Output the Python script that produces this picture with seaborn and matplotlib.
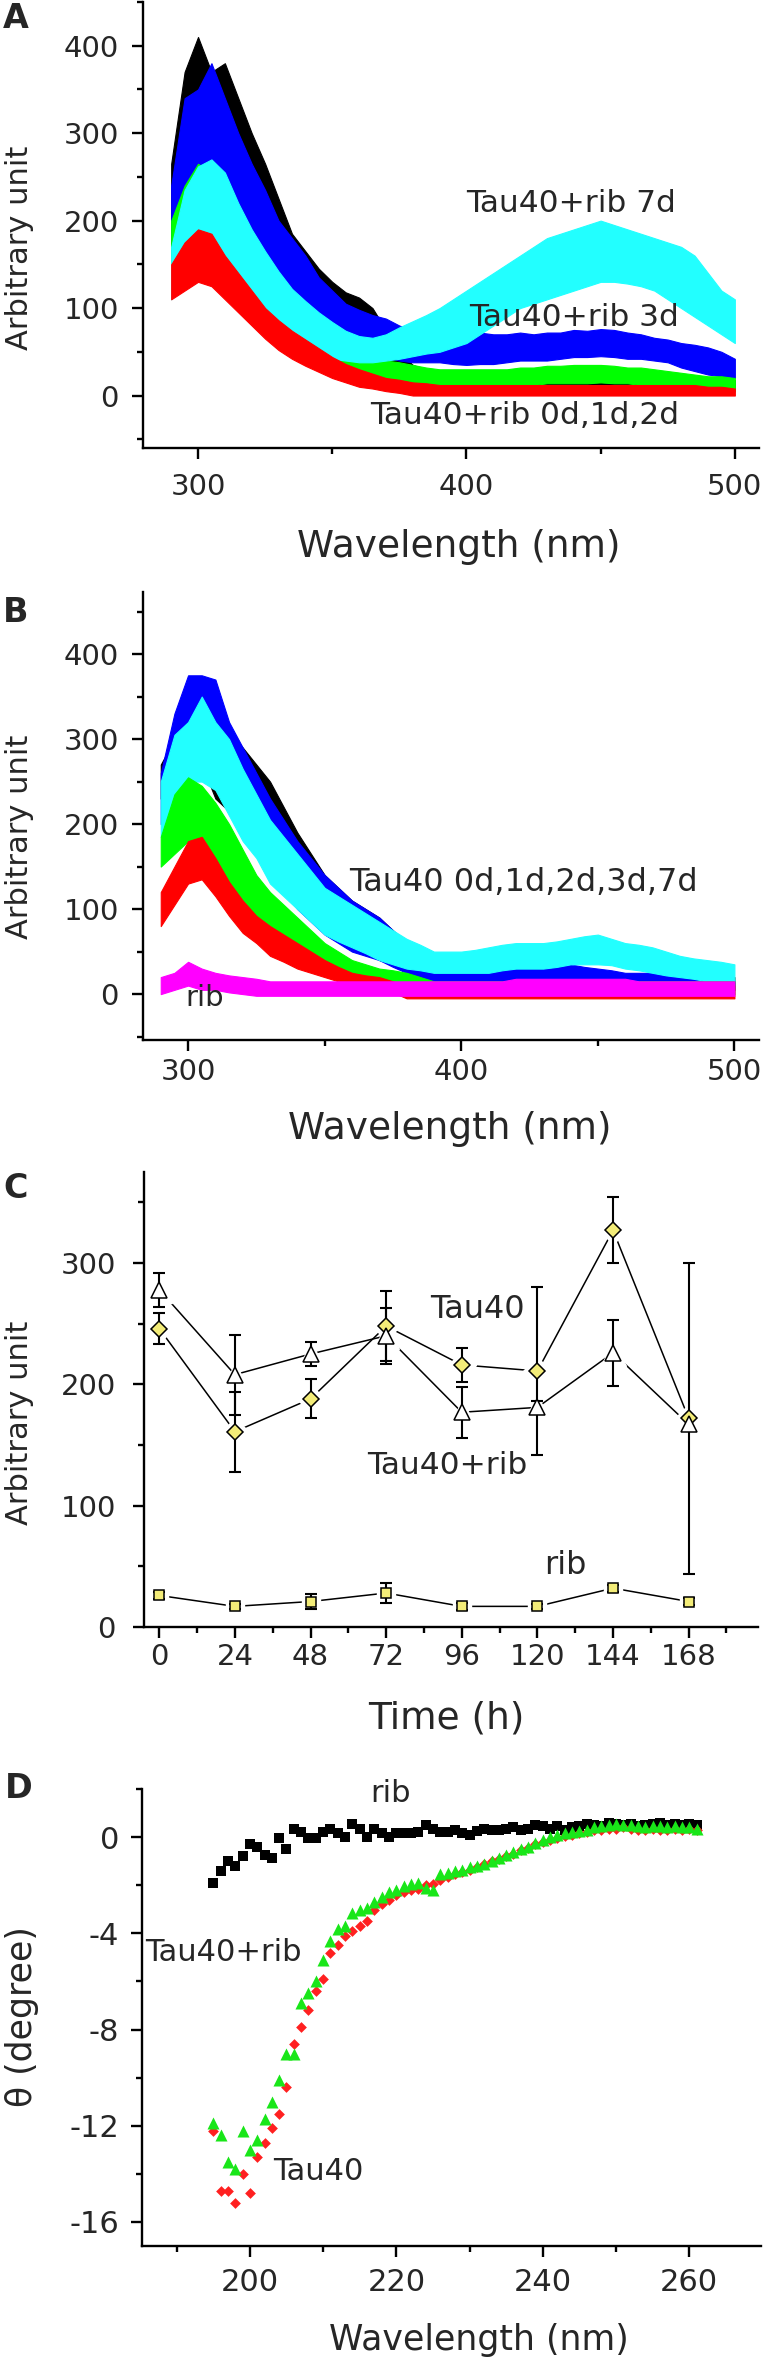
import numpy as np
import pandas as pd
import matplotlib.pyplot as plt
from matplotlib.ticker import MultipleLocator
import seaborn as sns

# --- panel A/B: fluorescence spectra, noisy traces given as lower/upper envelopes every 5 nm
wl = [290, 295, 300, 305, 310, 315, 320, 325, 330, 335, 340, 345, 350, 355, 360,
      365, 370, 375, 380, 385, 390, 395, 400, 405, 410, 415, 420, 425, 430, 435,
      440, 445, 450, 455, 460, 465, 470, 475, 480, 485, 490, 495, 500]

a_black_lo = [170, 230, 240, 245, 235, 190, 160, 140, 115, 95, 85, 70, 60, 50, 40, 30, 25, 20, 15, 12, 10, 10, 8, 8, 8, 6, 6, 6, 6, 6, 6, 6, 6, 5, 5, 5, 5, 5, 5, 5, 5, 5, 5]
a_black_hi = [265, 370, 410, 370, 380, 340, 300, 265, 225, 185, 165, 145, 130, 118, 112, 100, 75, 50, 35, 30, 28, 25, 25, 25, 25, 25, 25, 22, 22, 22, 22, 25, 22, 22, 20, 20, 20, 20, 20, 20, 18, 18, 18]
a_blue_lo = [160, 200, 215, 220, 205, 180, 150, 125, 105, 95, 82, 72, 62, 58, 52, 48, 44, 40, 38, 38, 38, 36, 35, 36, 36, 38, 40, 40, 40, 42, 44, 44, 45, 44, 42, 42, 40, 38, 32, 28, 24, 22, 20]
a_blue_hi = [240, 340, 350, 380, 340, 300, 265, 235, 200, 180, 160, 135, 120, 105, 98, 92, 88, 80, 75, 72, 70, 72, 75, 72, 70, 70, 72, 70, 72, 72, 75, 74, 76, 75, 72, 70, 66, 64, 60, 58, 55, 50, 42]
a_cyan_lo = [110, 140, 150, 160, 150, 125, 105, 90, 75, 62, 52, 46, 42, 40, 38, 38, 40, 42, 45, 48, 50, 55, 60, 70, 80, 90, 100, 105, 110, 115, 120, 125, 130, 130, 128, 125, 120, 110, 100, 90, 80, 70, 60]
a_cyan_hi = [170, 235, 262, 270, 255, 220, 190, 165, 142, 122, 108, 95, 84, 74, 68, 66, 70, 78, 85, 92, 100, 110, 120, 130, 140, 150, 160, 170, 180, 185, 190, 195, 200, 195, 190, 185, 180, 175, 170, 160, 140, 120, 110]
a_green_lo = [150, 165, 175, 170, 160, 130, 110, 90, 70, 60, 50, 40, 30, 25, 20, 18, 15, 14, 12, 12, 10, 10, 10, 10, 10, 12, 12, 12, 14, 14, 14, 14, 15, 14, 14, 12, 12, 10, 10, 8, 8, 6, 5]
a_green_hi = [200, 240, 265, 255, 235, 205, 175, 145, 122, 104, 92, 78, 62, 52, 46, 42, 40, 38, 35, 32, 30, 30, 30, 30, 30, 30, 32, 32, 34, 34, 35, 35, 35, 34, 32, 32, 30, 28, 26, 24, 22, 22, 20]
a_red_lo = [110, 120, 130, 125, 110, 95, 80, 65, 52, 42, 34, 27, 20, 15, 10, 8, 5, 3, 0, 0, 0, 0, 0, 0, 0, 0, 0, 0, 0, 0, 0, 0, 0, 0, 0, 0, 0, 0, 0, 0, 0, 0, 0]
a_red_hi = [150, 175, 190, 185, 160, 140, 120, 100, 86, 74, 64, 54, 44, 36, 30, 25, 20, 18, 15, 14, 12, 12, 12, 12, 12, 12, 12, 12, 12, 12, 12, 12, 12, 12, 12, 12, 12, 12, 12, 12, 10, 10, 8]

b_black_lo = [230, 260, 250, 270, 230, 215, 200, 175, 150, 130, 110, 95, 80, 70, 60, 50, 40, 35, 30, 25, 20, 15, 10, 8, 8, 8, 6, 6, 6, 6, 6, 5, 5, 5, 5, 5, 5, 5, 5, 5, 5, 5, 5]
b_black_hi = [270, 300, 360, 330, 340, 310, 290, 270, 250, 220, 190, 165, 140, 125, 110, 100, 90, 75, 60, 52, 45, 40, 35, 30, 28, 25, 25, 25, 25, 25, 25, 25, 25, 22, 22, 22, 22, 20, 20, 20, 20, 20, 20]
b_blue_lo = [200, 250, 270, 280, 250, 220, 200, 170, 140, 120, 100, 85, 70, 60, 50, 45, 40, 32, 25, 20, 15, 12, 10, 10, 10, 10, 10, 10, 10, 10, 10, 10, 10, 10, 10, 8, 5, 5, 5, 5, 5, 5, 5]
b_blue_hi = [260, 330, 375, 375, 370, 320, 290, 260, 230, 205, 180, 160, 140, 125, 110, 100, 90, 75, 60, 52, 45, 40, 35, 38, 40, 38, 35, 32, 30, 32, 35, 32, 30, 28, 25, 25, 25, 22, 20, 20, 20, 18, 15]
b_cyan_lo = [185, 230, 250, 250, 240, 210, 180, 160, 130, 115, 100, 85, 70, 62, 55, 48, 40, 35, 30, 28, 25, 25, 25, 25, 25, 28, 30, 30, 30, 32, 35, 35, 35, 34, 30, 28, 25, 22, 20, 18, 15, 15, 15]
b_cyan_hi = [250, 305, 320, 350, 320, 300, 265, 235, 205, 185, 165, 145, 125, 115, 105, 95, 85, 75, 65, 58, 50, 50, 50, 52, 55, 58, 60, 60, 60, 62, 65, 68, 70, 65, 60, 58, 55, 50, 45, 42, 40, 38, 35]
b_green_lo = [150, 165, 180, 175, 160, 130, 110, 90, 70, 58, 45, 38, 30, 22, 15, 12, 10, 8, 5, 3, 0, 0, 0, 0, 0, 0, 0, 0, 0, 0, 0, 0, 0, 0, 0, 0, 0, 0, 0, 0, 0, 0, 0]
b_green_hi = [185, 235, 255, 245, 225, 200, 170, 140, 120, 105, 90, 75, 60, 50, 40, 35, 30, 28, 25, 20, 15, 15, 15, 15, 15, 15, 15, 15, 15, 15, 15, 15, 15, 15, 15, 15, 15, 15, 15, 15, 15, 15, 15]
b_red_lo = [80, 105, 130, 135, 115, 92, 72, 60, 45, 38, 30, 25, 20, 15, 10, 8, 5, 2, -5, -5, -5, -5, -5, -5, -5, -5, -5, -5, -5, -5, -5, -5, -5, -5, -5, -5, -5, -5, -5, -5, -5, -5, -5]
b_red_hi = [120, 150, 180, 185, 160, 132, 110, 92, 80, 70, 60, 50, 40, 32, 25, 22, 20, 15, 10, 10, 10, 10, 10, 10, 10, 10, 10, 10, 10, 10, 10, 10, 10, 10, 10, 10, 10, 10, 10, 10, 10, 10, 10]
b_rib_lo = [0, 5, 10, 5, 5, 2, 0, -2, -2, -2, -2, -2, -2, -2, -2, -2, -2, -2, -2, -2, -2, -2, -2, -2, -2, -2, -2, -2, -2, -2, -2, -2, -2, -2, -2, -2, -2, -2, -2, -2, -2, -2, -2]
b_rib_hi = [20, 25, 38, 30, 25, 22, 20, 18, 15, 15, 15, 15, 15, 15, 15, 15, 15, 15, 15, 15, 15, 15, 15, 15, 15, 15, 18, 18, 18, 18, 18, 18, 18, 18, 18, 15, 15, 15, 15, 15, 15, 15, 15]

# --- panel C: intensity vs time
hours = [0, 24, 48, 72, 96, 120, 144, 168]
tau40 = [246, 161, 188, 248, 216, 211, 327, 172]
tau40_err = [13, 33, 16, 29, 14, 69, 27, 128]
tau40_rib = [278, 208, 225, 240, 177, 181, 226, 167]
tau40_rib_err = [14, 33, 10, 23, 21, 5, 27, 5]
rib = [26, 17, 21, 28, 17, 17, 32, 21]
rib_err = [3, 2, 6, 8, 3, 2, 3, 3]

# --- panel D: CD spectra, 195-261 nm
cd_wl = list(range(195, 262))
cd_rib = [-1.9, -1.4, -1.0, -1.2, -0.8, -0.3, -0.4, -0.75, -0.85, -0.05, -0.5, 0.35, 0.2, -0.05, -0.05, 0.2, 0.35, 0.15, 0.0, 0.55, 0.35, 0.0, 0.35, 0.15, 0.0, 0.15, 0.15, 0.15, 0.2, 0.5, 0.35, 0.2, 0.2, 0.3, 0.15, 0.1, 0.25, 0.35, 0.3, 0.3, 0.35, 0.4, 0.3, 0.35, 0.5, 0.45, 0.35, 0.45, 0.3, 0.4, 0.45, 0.55, 0.5, 0.45, 0.6, 0.55, 0.5, 0.55, 0.45, 0.5, 0.55, 0.6, 0.5, 0.55, 0.5, 0.55, 0.5]
cd_tau40 = [-12.2, -14.7, -14.7, -15.2, -14.0, -14.8, -13.3, -12.7, -12.1, -11.5, -10.4, -8.6, -7.9, -7.2, -6.4, -5.9, -4.8, -4.5, -4.1, -3.9, -3.7, -3.5, -3.05, -2.8, -2.6, -2.4, -2.3, -2.2, -2.15, -2.0, -1.95, -1.8, -1.65, -1.55, -1.45, -1.35, -1.25, -1.1, -1.0, -0.9, -0.8, -0.7, -0.55, -0.45, -0.3, -0.2, -0.1, -0.05, 0.05, 0.1, 0.15, 0.2, 0.3, 0.3, 0.35, 0.35, 0.4, 0.35, 0.3, 0.3, 0.35, 0.3, 0.3, 0.35, 0.3, 0.35, 0.3]
cd_tau40_rib = [-11.9, -12.4, -13.5, -13.8, -12.2, -13.0, -12.6, -11.7, -11.0, -10.1, -9.0, -9.0, -6.9, -6.5, -6.0, -5.1, -4.3, -3.8, -3.7, -3.15, -3.05, -2.95, -2.7, -2.5, -2.3, -2.2, -2.05, -1.95, -1.9, -2.1, -2.2, -1.55, -1.5, -1.4, -1.35, -1.25, -1.2, -1.1, -1.0, -0.85, -0.75, -0.6, -0.5, -0.4, -0.25, -0.1, 0.0, 0.1, 0.15, 0.2, 0.25, 0.3, 0.4, 0.45, 0.5, 0.55, 0.5, 0.5, 0.45, 0.4, 0.45, 0.45, 0.4, 0.45, 0.4, 0.4, 0.35]

sns.set_theme(style="ticks")
plt.rcParams["font.family"] = ["DejaVu Sans"]
plt.rcParams["axes.unicode_minus"] = False

W, H = 764, 2360
fig = plt.figure(figsize=(W / 100, H / 100), dpi=100)


def rect(x0, x1, ytop, ybot):
    return [x0 / W, 1 - ybot / H, (x1 - x0) / W, (ybot - ytop) / H]


def style_axes(ax, xpad, ypad, size=21):
    for s in ["top", "right"]:
        ax.spines[s].set_visible(False)
    for s in ["left", "bottom"]:
        ax.spines[s].set_linewidth(1.7)
        ax.spines[s].set_color("black")
    ax.tick_params(which="major", direction="out", length=8, width=1.7, color="black",
                   labelsize=size)
    ax.tick_params(which="minor", direction="out", length=4.5, width=1.7, color="black")
    ax.tick_params(axis="x", pad=xpad)
    ax.tick_params(axis="y", pad=ypad)
    ax.set_facecolor("white")


def labels(ax, xl, yl, xpos, ypos, size=27, ysize=22):
    ax.set_xlabel(xl, fontsize=size)
    ax.set_ylabel(yl, fontsize=ysize)
    ax.xaxis.set_label_coords(*xpos)
    ax.yaxis.set_label_coords(*ypos)
    ax.xaxis.label.set_va("center")
    ax.yaxis.label.set_va("center")


def spectra(ax, curves):
    for lo, hi, col in curves:
        ax.fill_between(wl, lo, hi, color=col, linewidth=0.8, edgecolor=col)


# A
axA = fig.add_axes(rect(143, 759, 2, 448))
spectra(axA, [(a_black_lo, a_black_hi, "#000000"),
              (a_blue_lo, a_blue_hi, "#0000ff"),
              (a_green_lo, a_green_hi, "#00ff00"),
              (a_cyan_lo, a_cyan_hi, "#22ffff"),
              (a_red_lo, a_red_hi, "#ff0000")])
axA.set_xlim(279.5, 509)
axA.set_ylim(-60, 450)
axA.set_xticks([300, 400, 500])
axA.set_yticks([0, 100, 200, 300, 400])
axA.xaxis.set_minor_locator(MultipleLocator(50))
axA.yaxis.set_minor_locator(MultipleLocator(50))
style_axes(axA, 10, 9.4)
labels(axA, "Wavelength (nm)", "Arbitrary unit", (0.513, -0.222), (-0.20, 0.448))
axA.text(400, 220, "Tau40+rib 7d", fontsize=22.5, va="center")
axA.text(401, 89, "Tau40+rib 3d", fontsize=22.5, va="center")
axA.text(364, -23, "Tau40+rib 0d,1d,2d", fontsize=22.5, va="center")

# B
axB = fig.add_axes(rect(143, 759, 592, 1040))
spectra(axB, [(b_black_lo, b_black_hi, "#000000"),
              (b_blue_lo, b_blue_hi, "#0000ff"),
              (b_cyan_lo, b_cyan_hi, "#22ffff"),
              (b_green_lo, b_green_hi, "#00ff00"),
              (b_red_lo, b_red_hi, "#ff0000"),
              (b_rib_lo, b_rib_hi, "#ff00ff")])
axB.set_xlim(283.5, 509)
axB.set_ylim(-54, 473)
axB.set_xticks([300, 400, 500])
axB.set_yticks([0, 100, 200, 300, 400])
axB.xaxis.set_minor_locator(MultipleLocator(50))
axB.yaxis.set_minor_locator(MultipleLocator(50))
style_axes(axB, 5, 9.4)
labels(axB, "Wavelength (nm)", "Arbitrary unit", (0.498, -0.199), (-0.20, 0.453))
axB.text(359, 131, "Tau40 0d,1d,2d,3d,7d", fontsize=23, va="center")
axB.text(299, -5, "rib", fontsize=21, va="center")

# C
axC = fig.add_axes(rect(143.5, 758, 1172, 1627))
series = [(tau40, tau40_err, "D", "#f3ec78", 8),
          (tau40_rib, tau40_rib_err, "^", "white", 12),
          (rib, rib_err, "s", "#f3ec78", 7)]
for vals, err, mk, fc, ms in series:
    sns.lineplot(x=hours, y=vals, ax=axC, color="black", linewidth=1.1, zorder=1)
    # white halo leaves the small gap between line and symbol
    axC.plot(hours, vals, linestyle="none", marker=mk, markersize=ms + 6,
             markerfacecolor="white", markeredgecolor="white", zorder=1.5)
    axC.errorbar(hours, vals, yerr=err, fmt="none", ecolor="black", elinewidth=1.5,
                 capsize=4.5, capthick=1.5, zorder=2)
    axC.plot(hours, vals, linestyle="none", marker=mk, markersize=ms,
             markerfacecolor=fc, markeredgecolor="black", markeredgewidth=1.1, zorder=3)
axC.set_xlim(-5, 190)
axC.set_ylim(0, 375)
axC.set_xticks(hours)
axC.set_yticks([0, 100, 200, 300])
axC.xaxis.set_minor_locator(MultipleLocator(12))
axC.yaxis.set_minor_locator(MultipleLocator(50))
style_axes(axC, 3.6, 12)
labels(axC, "Time (h)", "Arbitrary unit", (0.492, -0.20), (-0.201, 0.448))
axC.text(86, 262, "Tau40", fontsize=23, va="center")
axC.text(66, 133, "Tau40+rib", fontsize=22.5, va="center")
axC.text(122, 51, "rib", fontsize=23, va="center")

# D
axD = fig.add_axes(rect(141.5, 761, 1789, 2246))
cd = pd.DataFrame({"wl": cd_wl, "rib": cd_rib, "tau": cd_tau40, "taurib": cd_tau40_rib})
sns.scatterplot(data=cd, x="wl", y="rib", ax=axD, marker="s", color="black", s=42, linewidth=0)
sns.scatterplot(data=cd, x="wl", y="tau", ax=axD, marker="D", color="#ff2020", s=30, linewidth=0)
sns.scatterplot(data=cd, x="wl", y="taurib", ax=axD, marker="^", color="#19e619", s=75, linewidth=0)
axD.set_xlim(185.2, 269.8)
axD.set_ylim(-17, 2)
axD.set_xticks([200, 220, 240, 260])
axD.set_yticks([-16, -12, -8, -4, 0])
axD.xaxis.set_minor_locator(MultipleLocator(10))
axD.yaxis.set_minor_locator(MultipleLocator(2))
style_axes(axD, 8, 8, size=22)
labels(axD, "Wavelength (nm)", "θ (degree)", (0.545, -0.206), (-0.193, 0.501), size=25, ysize=25)
axD.text(216.5, 1.8, "rib", fontsize=22, va="center")
axD.text(185.7, -4.8, "Tau40+rib", fontsize=22, va="center")
axD.text(203.2, -13.9, "Tau40", fontsize=22, va="center")

for lab, x, y in [("A", 16, 18), ("B", 16, 612), ("C", 16, 1189), ("D", 19, 1789)]:
    fig.text(x / W, 1 - y / H, lab, fontsize=24, fontweight="bold", ha="center", va="center")

fig.savefig("out.png", dpi=100, facecolor="white")
